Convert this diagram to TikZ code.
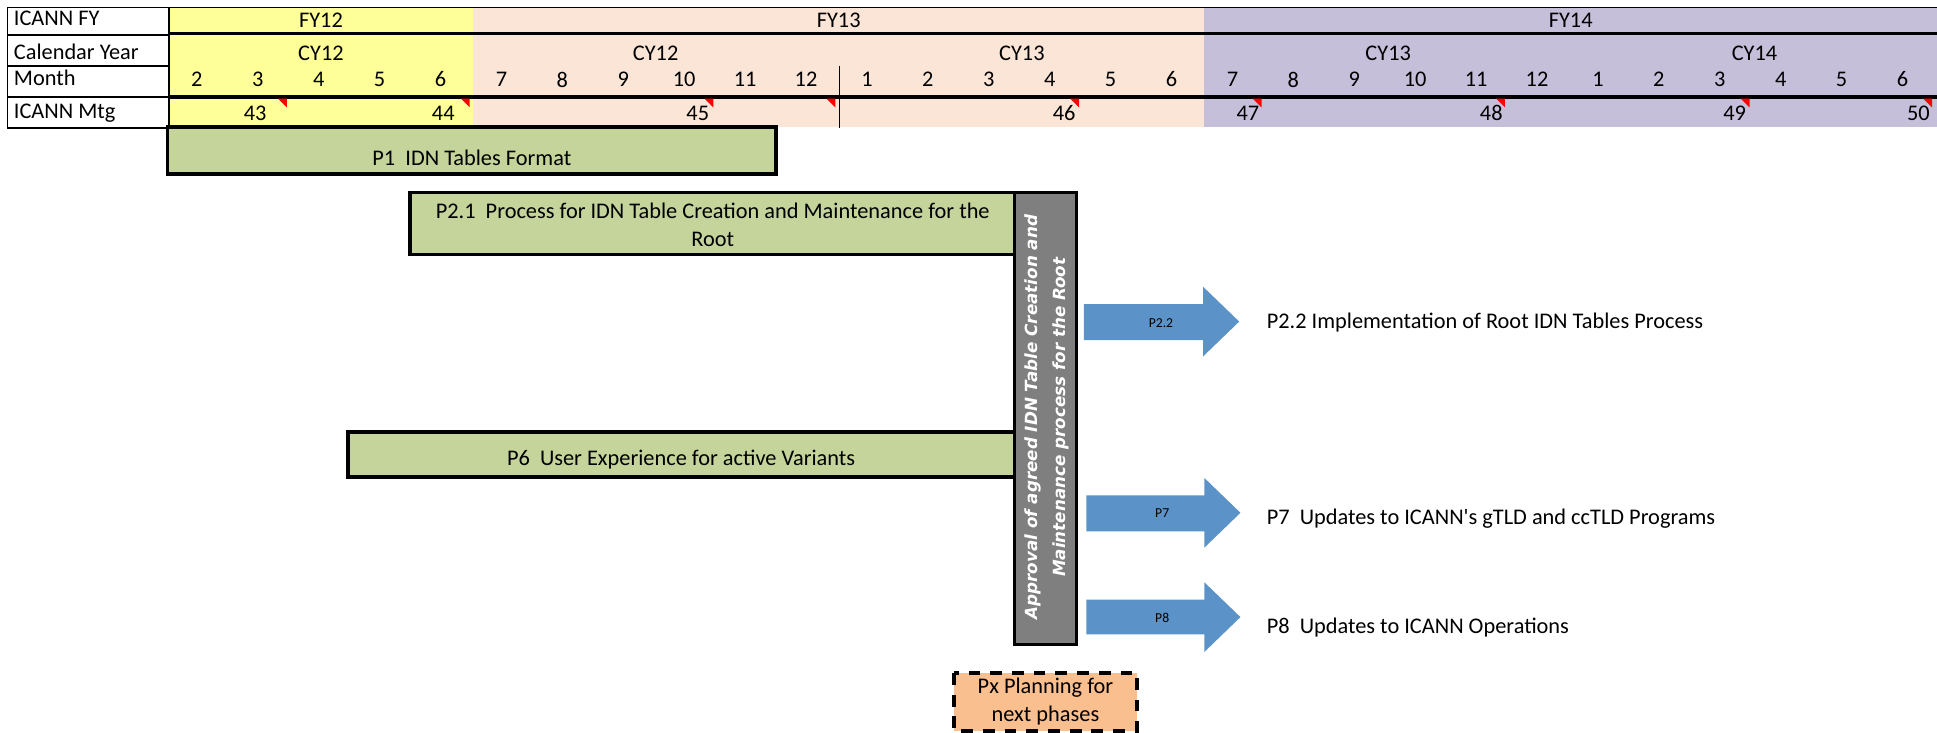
\documentclass[tikz,border=0pt]{standalone}
\usepackage{fontspec}
\setmainfont{Carlito}
\newfontfamily\vfont{DejaVu Sans}
\definecolor{yellowc}{HTML}{FFFF99}
\definecolor{peachc}{HTML}{FBE5D6}
\definecolor{lavc}{HTML}{C6BFDA}
\definecolor{greenc}{HTML}{C4D49B}
\definecolor{greyc}{HTML}{7F7F7F}
\definecolor{bluec}{HTML}{5B93C8}
\definecolor{orangec}{HTML}{FABF8F}
\begin{document}
\begin{tikzpicture}[x=1pt,y=-1pt,
  txt/.style={font=\fontsize{18}{22}\selectfont, inner sep=0pt, align=center},
  small/.style={font=\fontsize{11}{13}\selectfont, inner sep=0pt},
  thin/.style={line width=1.3pt},
  thk/.style={line width=3pt},
  gbox/.style={draw=black, line width=3pt, fill=greenc},
  arr/.style={fill=bluec, draw=none},
  redtri/.style={fill=red, draw=none}]
\useasboundingbox (0,0) rectangle (1560,590.3);
% backgrounds
\fill[yellowc] (136,6) rectangle (381,102);
\fill[peachc] (381,6) rectangle (970,102);
\fill[lavc] (970,6) rectangle (1560,102);
% grid lines
\draw[thin] (6,6) -- (1560,6);
\draw[thin] (6,6) rectangle (136,103);
\draw[thin] (6,28) -- (136,28);
\draw[thin] (6,53) -- (136,53);
\draw[thk] (136,27) -- (1560,27);
\draw[thin] (6,78) -- (136,78);
\draw[thk] (136,78) -- (1560,78);
\draw[thin] (676,53) -- (676,103);
% row headers
\node[txt, anchor=west] (hfy) at (11,15) {ICANN FY};
\node[txt, anchor=west] (hcy) at (11,42) {Calendar Year};
\node[txt, anchor=west] (hmo) at (11,63) {Month};
\node[txt, anchor=west] (hmt) at (11,91) {ICANN Mtg};
% FY
\node[txt] (fy12) at (258.5,16) {FY12};
\node[txt] (fy13) at (675.5,16) {FY13};
\node[txt] (fy14) at (1265,16) {FY14};
% CY
\node[txt] (cya) at (258.5,43) {CY12};
\node[txt] (cyb) at (528,43) {CY12};
\node[txt] (cyc) at (823,43) {CY13};
\node[txt] (cyd) at (1118,43) {CY13};
\node[txt] (cye) at (1413,43) {CY14};
% months
\foreach \m [count=\i from 0] in {2,3,4,5,6,7,8,9,10,11,12,1,2,3,4,5,6,7,8,9,10,11,12,1,2,3,4,5,6}
  \node[txt] (mo\i) at ({136+49.06*(\i+0.5)-2},64) {\m};
% meeting marks
\foreach \xr in {231,378.3,672.7,574.5,869,1016,1212,1409,1556}
  \fill[redtri] ({\xr-7},79.5) -- (\xr,79.5) -- (\xr,86.5) -- cycle;
\node[txt] (g43) at (205.5,91) {43};
\node[txt] (g44) at (357,91) {44};
\node[txt] (g45) at (562,91) {45};
\node[txt] (g46) at (857,91) {46};
\node[txt] (g47) at (1005,91) {47};
\node[txt] (g48) at (1201,91) {48};
\node[txt] (g49) at (1397,91) {49};
\node[txt] (g50) at (1545,91) {50};
% green bars
\draw[gbox] (135,102) rectangle (625,140);
\node[txt] (p1) at (380,127) {P1\ \ IDN Tables Format};
\draw[gbox] (330,155) rectangle (817,205);
\node[txt] (p21) at (574,181) {P2.1\ \ Process for IDN Table Creation and Maintenance for the\\Root};
\draw[gbox] (280,348) rectangle (817,384);
\node[txt] (p6) at (548.5,370) {P6\ \ User Experience for active Variants};
% grey approval bar
\draw[fill=greyc, draw=black, line width=3pt] (817,155) rectangle (867,519);
\node[font=\vfont\bfseries\itshape\fontsize{13.5}{23}\selectfont, text=white, rotate=90, align=center, inner sep=0pt] (appr) at (843,336) {Approval of agreed IDN Table Creation and\\Maintenance process for the Root};
% arrows
\fill[arr] (873,245) -- (969,245) -- (969,231) -- (998,259) -- (969,287) -- (969,274) -- (873,274) -- cycle;
\node[small] (a22) at (935,260) {P2.2};
\fill[arr] (875,399) -- (970,399) -- (970,385) -- (999,413) -- (970,441) -- (970,428) -- (875,428) -- cycle;
\node[small] (a7) at (936,413) {P7};
\fill[arr] (875,483) -- (970,483) -- (970,469) -- (999,497) -- (970,525) -- (970,511) -- (875,511) -- cycle;
\node[small] (a8) at (936,498) {P8};
\node[txt, anchor=west] (t22) at (1020,260) {P2.2 Implementation of Root IDN Tables Process};
\node[txt, anchor=west] (t7) at (1020,418) {P7\ \ Updates to ICANN\textquotesingle s gTLD and ccTLD Programs};
\node[txt, anchor=west] (t8) at (1020,505) {P8\ \ Updates to ICANN Operations};
% planning box
\draw[fill=orangec, draw=black, line width=3.2pt, dash pattern=on 9.5pt off 8pt] (768,542) rectangle (916,588.5);
\node[txt] (px) at (842,565) {Px Planning for\\next phases};
\end{tikzpicture}
\end{document}
